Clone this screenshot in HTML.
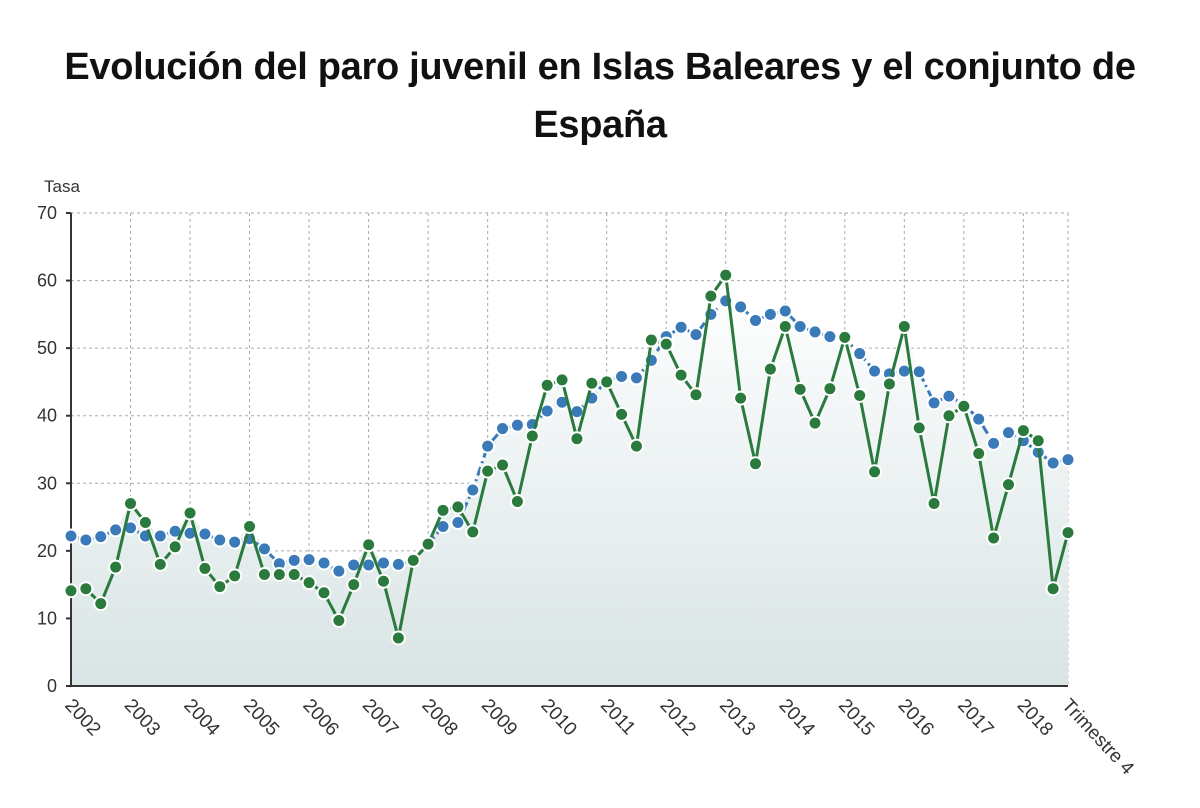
<!DOCTYPE html>
<html><head><meta charset="utf-8"><style>
body{margin:0;background:#fff;font-family:"Liberation Sans",sans-serif;}
#t{position:absolute;left:0;top:38px;width:1200px;text-align:center;font-weight:bold;font-size:38px;line-height:58px;color:#111;letter-spacing:-0.3px;}
</style></head><body>
<div id="t">Evolución del paro juvenil en Islas Baleares y el conjunto de<br>España</div>
<svg id="c" width="1200" height="808" style="position:absolute;left:0;top:0">
<defs><linearGradient id="g" x1="0" y1="0" x2="0" y2="1"><stop offset="0" stop-color="#ffffff"/><stop offset="1" stop-color="#d9e4e5"/></linearGradient></defs>
</svg>
<script>
const years=["2002","2003","2004","2005","2006","2007","2008","2009","2010","2011","2012","2013","2014","2015","2016","2017","2018"];
const yTicks=[0,10,20,30,40,50,60,70];
const spain=[22.2,21.6,22.1,23.1,23.4,22.2,22.2,22.9,22.6,22.5,21.6,21.3,21.8,20.3,18.1,18.6,18.7,18.2,17.0,17.9,17.9,18.2,18.0,18.6,21.0,23.6,24.2,29.0,35.5,38.1,38.6,38.7,40.7,42.0,40.6,42.6,45.3,45.8,45.6,48.2,51.7,53.1,52.0,55.0,57.0,56.1,54.1,55.0,55.5,53.2,52.4,51.7,51.4,49.2,46.6,46.2,46.6,46.5,41.9,42.9,41.7,39.5,35.9,37.5,36.3,34.6,33.0,33.5];
const baleares=[14.1,14.4,12.2,17.6,27.0,24.2,18.0,20.6,25.6,17.4,14.7,16.3,23.6,16.5,16.5,16.5,15.3,13.8,9.7,15.0,20.9,15.5,7.1,18.6,21.0,26.0,26.5,22.8,31.8,32.7,27.3,37.0,44.5,45.3,36.6,44.8,45.0,40.2,35.5,51.2,50.6,46.0,43.1,57.7,60.8,42.6,32.9,46.9,53.2,43.9,38.9,44.0,51.6,43.0,31.7,44.7,53.2,38.2,27.0,40.0,41.4,34.4,21.9,29.8,37.8,36.3,14.4,22.7];
const svg=document.getElementById('c'),NS='http://www.w3.org/2000/svg';
const X0=71,X1=1068,Y0=686,Y1=213,N=spain.length;
const xs=i=>X0+(X1-X0)*i/(N-1), ys=v=>Y0-(Y0-Y1)*v/70;
function mk(t,a,p){const e=document.createElementNS(NS,t);for(const k in a)e.setAttribute(k,a[k]);(p||svg).appendChild(e);return e;}
yTicks.forEach(v=>{const l=mk('line',{x1:X0,x2:X1,y1:ys(v),y2:ys(v),stroke:'#aaa','stroke-dasharray':'3,3'});


const tk=mk('line',{x1:X0-5,x2:X0,y1:ys(v),y2:ys(v),stroke:'#333','stroke-width':2});


const t=mk('text',{x:57,y:ys(v)+6,'text-anchor':'end','font-size':18,fill:'#333'});t.textContent=v;

});
years.forEach((y,k)=>{const x=xs(k*4);
const l=mk('line',{x1:x,x2:x,y1:Y1,y2:Y0,stroke:'#aaa','stroke-dasharray':'3,3'});


const t=mk('text',{x:x-7,y:Y0+20,'font-size':19,fill:'#333',transform:`rotate(47 ${x-7} ${Y0+20})`});t.textContent=y;

});
const vl=mk('line',{x1:X1,x2:X1,y1:Y1,y2:Y0,stroke:'#aaa','stroke-dasharray':'3,3'});


const tl=mk('text',{x:X1-7,y:Y0+20,'font-size':19,fill:'#333',transform:`rotate(47 ${X1-7} ${Y0+20})`});tl.textContent='Trimestre 4';


let d=`M${X0},${Y0}`;for(let i=0;i<N;i++)d+=`L${xs(i)},${ys(Math.max(spain[i],baleares[i]))}`;d+=`L${X1},${Y0}Z`;
const ar=mk('path',{d,fill:'url(#g)'});


const ax=mk('line',{x1:X0,x2:X0,y1:Y1,y2:Y0,stroke:'#333','stroke-width':2});


const bx=mk('line',{x1:X0,x2:X1,y1:Y0,y2:Y0,stroke:'#333','stroke-width':2});


const yt=mk('text',{x:44,y:192,'font-size':17,fill:'#333'});yt.textContent='Tasa';


function series(arr,col,dash,name){
const pts=arr.map((v,i)=>xs(i)+','+ys(v)).join(' ');
const pl=mk('polyline',{points:pts,fill:'none',stroke:col,'stroke-width':3,'stroke-dasharray':dash});


arr.forEach((v,i)=>{const c=mk('circle',{cx:xs(i),cy:ys(v),r:6.5,fill:col,stroke:'#fff','stroke-width':2});

});}
series(spain,'#3a7ab8','9,4,2,4','spain');
series(baleares,'#2a7a3e','none','baleares');
</script>
</body></html>
